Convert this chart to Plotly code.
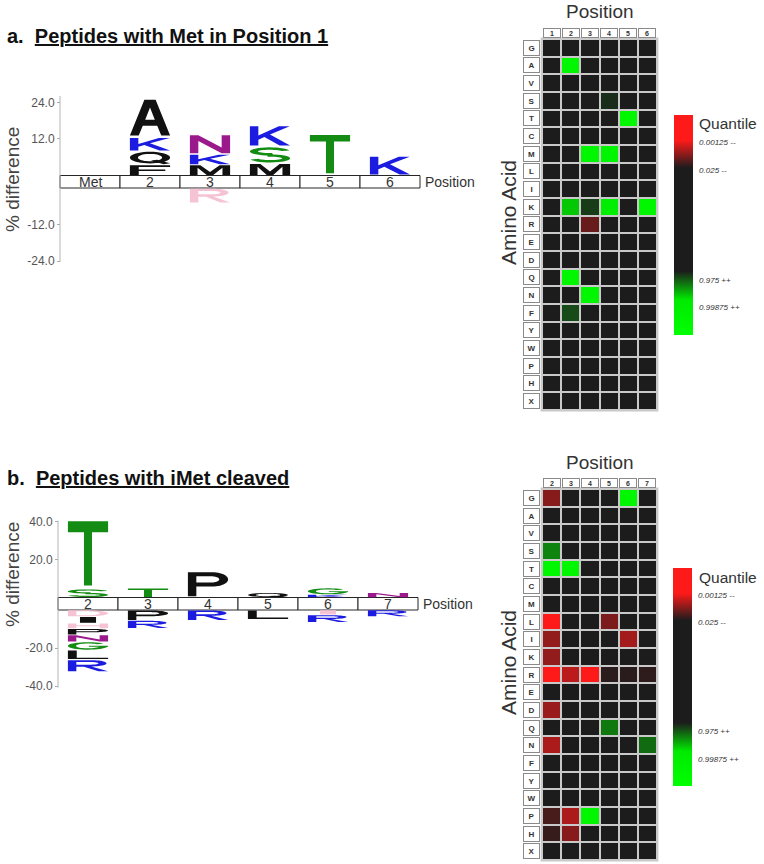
import math
import plotly.graph_objects as go

FIG_W, FIG_H = 764, 864
FONT = "Liberation Sans, Arial, Helvetica, sans-serif"

# ------------------------------------------------------------------ data
# Panel a: sequence logo (% difference), stacks listed from the bar outward
a_positions = ["Met", "2", "3", "4", "5", "6"]
a_up_letters = [[], ["F", "Q", "K", "A"], ["M", "K", "N"], ["M", "S", "K"], ["T"], ["K"]]
a_up_values = [[], [3.5, 4.5, 4.5, 13.0], [3.5, 3.5, 6.5], [4.0, 5.5, 7.0], [14.0], [6.5]]
a_down_letters = [[], [], ["R"], [], [], []]
a_down_values = [[], [], [5.0], [], [], []]
a_ticks = [24, 12, -12, -24]

# Panel b: sequence logo
b_positions = ["2", "3", "4", "5", "6", "7"]
b_up_letters = [["S", "T"], ["T"], ["P"], ["Q"], ["K", "G"], ["N"]]
b_up_values = [[4.5, 37.5], [5.0], [14.0], [2.5], [1.5, 3.5], [2.5]]
b_down_letters = [["D", "I", "H", "P", "N", "G", "L", "R"], ["P", "R"], ["R"], ["L"], ["I", "R"], ["R"]]
b_down_values = [[3.5, 3.4, 2.9, 3.3, 3.6, 4.4, 5.0, 6.5], [5.5, 4.2], [5.5], [5.0], [2.5, 4.0], [3.5]]
b_ticks = [40, 20, -20, -40]

# Heatmaps (score: + = depleted / red, - = enriched / green, 0 = not significant)
amino_acids = ["G", "A", "V", "S", "T", "C", "M", "L", "I", "K", "R",
               "E", "D", "Q", "N", "F", "Y", "W", "P", "H", "X"]
a_heat_cols = ["1", "2", "3", "4", "5", "6"]
a_cell_aa = ["A", "S", "T", "M", "M", "K", "K", "K", "K", "R", "Q", "N", "F"]
a_cell_pos = ["2", "4", "5", "3", "4", "2", "3", "4", "6", "3", "2", "3", "2"]
a_cell_z = [-3.5, -1.76, -3.5, -3.5, -3.4, -2.55, -1.84, -3.0, -3.5, 2.41, -3.5, -3.5, -1.91]

b_heat_cols = ["2", "3", "4", "5", "6", "7"]
b_cell_aa = ["G", "G", "S", "T", "T", "L", "L", "I", "I", "K", "R", "R", "R", "R", "R", "R",
             "D", "Q", "N", "N", "P", "P", "P", "H", "H"]
b_cell_pos = ["2", "6", "2", "2", "3", "2", "5", "2", "6", "2", "2", "3", "4", "5", "6", "7",
              "2", "5", "2", "7", "2", "3", "4", "2", "3"]
b_cell_z = [2.55, -3.5, -2.2, -3.5, -3.5, 3.5, 2.5, 2.6, 2.68, 2.6, 3.5, 2.78, 3.5, 2.14, 2.14, 2.16,
            2.63, -2.15, 2.71, -2.08, 2.28, 2.71, -3.5, 2.2, 2.55]

q_tickvals = [3, 2, -2, -3]
q_ticktext = ["0.00125 --", "0.025 --", "0.975 ++", "0.99875 ++"]

# ------------------------------------------------------------------ styles
BLACK, BLUE, GREEN, PURPLE, RED, PINK = "#111111", "#1c1ce0", "#148c14", "#9a1a8c", "#d01818", "#f5c3d3"
LETTER_COLORS = {"A": BLACK, "F": BLACK, "Q": BLACK, "M": BLACK, "P": BLACK, "L": BLACK, "I": BLACK,
                 "V": BLACK, "W": BLACK, "K": BLUE, "R": BLUE, "H": BLUE, "S": GREEN, "T": GREEN,
                 "G": GREEN, "Y": GREEN, "C": GREEN, "N": PURPLE, "D": RED, "E": RED}
A_FAINT = {("3", "R")}
B_FAINT = {("2", "D"), ("2", "H"), ("6", "I")}
COLORSCALE = [[0.0, "#00ff00"], [0.16, "#00ea00"], [0.29, "#1c1c1c"], [0.76, "#1c1c1c"],
              [0.885, "#ff1a1a"], [1.0, "#ff1a1a"]]


def pxx(p):
    return p / FIG_W


def pxy(p):
    return 1 - p / FIG_H


# ------------------------------------------------------------------ glyph outlines (unit box)
def arc(cx, cy, rx, ry, a0, a1, n=24):
    pts = []
    for i in range(n + 1):
        t = math.radians(a0 + (a1 - a0) * i / n)
        pts.append((cx + rx * math.cos(t), cy + ry * math.sin(t)))
    return pts


def rect(x0, y0, x1, y1):
    return [(x0, y0), (x1, y0), (x1, y1), (x0, y1)]


GLYPHS = {
    "A": [([(0, 0), (0.36, 1), (0.64, 1), (1, 0), (0.78, 0), (0.68, 0.27), (0.32, 0.27), (0.22, 0)], False),
          ([(0.38, 0.44), (0.62, 0.44), (0.5, 0.78)], True)],
    "K": [([(0, 0), (0, 1), (0.21, 1), (0.21, 0.52), (0.72, 1), (0.99, 1), (0.5, 0.57), (1, 0),
            (0.74, 0), (0.36, 0.44), (0.21, 0.3), (0.21, 0)], False)],
    "F": [([(0, 0), (0, 1), (1, 1), (1, 0.83), (0.22, 0.83), (0.22, 0.58), (0.88, 0.58), (0.88, 0.41),
            (0.22, 0.41), (0.22, 0)], False)],
    "L": [([(0, 0), (0, 1), (0.22, 1), (0.22, 0.17), (1, 0.17), (1, 0)], False)],
    "T": [([(0, 1), (1, 1), (1, 0.83), (0.6, 0.83), (0.6, 0), (0.4, 0), (0.4, 0.83), (0, 0.83)], False)],
    "I": [(rect(0.3, 0, 0.7, 1), False)],
    "N": [([(0, 0), (0, 1), (0.21, 1), (0.79, 0.32), (0.79, 1), (1, 1), (1, 0), (0.79, 0),
            (0.21, 0.68), (0.21, 0)], False)],
    "M": [([(0, 0), (0, 1), (0.26, 1), (0.5, 0.3), (0.74, 1), (1, 1), (1, 0), (0.81, 0), (0.81, 0.74),
            (0.58, 0), (0.42, 0), (0.19, 0.74), (0.19, 0)], False)],
    "H": [([(0, 0), (0, 1), (0.21, 1), (0.21, 0.6), (0.79, 0.6), (0.79, 1), (1, 1), (1, 0), (0.79, 0),
            (0.79, 0.43), (0.21, 0.43), (0.21, 0)], False)],
    "P": [([(0, 0), (0, 1), (0.6, 1)] + arc(0.6, 0.7, 0.4, 0.3, 90, -90) + [(0.21, 0.4), (0.21, 0)], False),
          ([(0.21, 0.83), (0.58, 0.83)] + arc(0.58, 0.7, 0.2, 0.13, 90, -90) + [(0.21, 0.57)], True)],
    "R": [([(0, 0), (0, 1), (0.58, 1)] + arc(0.58, 0.72, 0.38, 0.28, 90, -90)
           + [(1, 0), (0.76, 0), (0.4, 0.42), (0.21, 0.42), (0.21, 0)], False),
          ([(0.21, 0.84), (0.56, 0.84)] + arc(0.56, 0.72, 0.2, 0.12, 90, -90) + [(0.21, 0.6)], True)],
    "D": [([(0, 0), (0, 1), (0.45, 1)] + arc(0.45, 0.5, 0.55, 0.5, 90, -90), False),
          ([(0.21, 0.83), (0.45, 0.83)] + arc(0.45, 0.5, 0.34, 0.33, 90, -90) + [(0.21, 0.17)], True)],
    "Q": [(arc(0.5, 0.53, 0.5, 0.47, 0, 360, 40), False),
          (arc(0.5, 0.53, 0.3, 0.3, 0, 360, 40), True),
          ([(0.52, 0.3), (0.68, 0.36), (1.0, 0.08), (0.84, 0.0)], False)],
    "S": [(arc(0.5, 0.73, 0.5, 0.27, 15, 280) + arc(0.5, 0.73, 0.3, 0.11, 280, 15), False),
          (arc(0.5, 0.27, 0.5, 0.27, 100, -165) + arc(0.5, 0.27, 0.3, 0.11, -165, 100), False)],
    "G": [(arc(0.5, 0.5, 0.5, 0.5, 40, 360, 36) + arc(0.5, 0.5, 0.3, 0.32, 360, 40, 36), False),
          (rect(0.52, 0.38, 1.0, 0.53), False)],
}


def signed_area(pts):
    s = 0.0
    for i in range(len(pts)):
        x1, y1 = pts[i]
        x2, y2 = pts[(i + 1) % len(pts)]
        s += x1 * y2 - x2 * y1
    return s / 2


def letter_path(letter, xc, y0, h, wcol=0.67, pad=0.05):
    contours = GLYPHS.get(letter, [(rect(0, 0, 1, 1), False)])
    parts = []
    ya = y0 + h * pad
    hh = h * (1 - 2 * pad)
    for pts, hole in contours:
        ccw = signed_area(pts) > 0
        if ccw == hole:
            pts = pts[::-1]
        coords = ["{:.4f},{:.4f}".format(xc + (u - 0.5) * wcol, ya + v * hh) for u, v in pts]
        parts.append("M" + " L".join(coords) + " Z")
    return " ".join(parts)


def logo_shapes(xref, yref, positions, up_l, up_v, dn_l, dn_v, gap, faint):
    shapes = []
    # position bar
    for k in range(len(positions)):
        shapes.append(dict(type="rect", xref=xref, yref=yref, x0=k + 0.5, x1=k + 1.5, y0=0, y1=-gap,
                           line=dict(color="#262626", width=1), fillcolor="white"))
    for k, pos in enumerate(positions):
        base = 0.0
        for letter, v in zip(up_l[k], up_v[k]):
            col = PINK if (pos, letter) in faint else LETTER_COLORS.get(letter, BLACK)
            shapes.append(dict(type="path", xref=xref, yref=yref, path=letter_path(letter, k + 1, base, v),
                               fillcolor=col, line=dict(width=0), fillrule="nonzero"))
            base += v
        base = -gap
        for letter, v in zip(dn_l[k], dn_v[k]):
            col = PINK if (pos, letter) in faint else LETTER_COLORS.get(letter, BLACK)
            shapes.append(dict(type="path", xref=xref, yref=yref, path=letter_path(letter, k + 1, base - v, v),
                               fillcolor=col, line=dict(width=0), fillrule="nonzero"))
            base -= v
    return shapes


def heat_matrix(cols, cell_aa, cell_pos, cell_z):
    z = [[0.0] * len(cols) for _ in amino_acids]
    for aa, pos, v in zip(cell_aa, cell_pos, cell_z):
        z[amino_acids.index(aa)][cols.index(pos)] = v
    return z


# ------------------------------------------------------------------ geometry (pixels)
A_ZERO, A_PPU, GAP_PX = 175.5, 3.05, 12.5
A_TOP, A_BOT = 80, 275
B_ZERO, B_PPU = 597.5, 1.9
B_TOP, B_BOT = 505, 700
a_gap = GAP_PX / A_PPU
b_gap = GAP_PX / B_PPU

fig = go.Figure()

colorbar_common = dict(xanchor="left", xpad=0, yanchor="top", ypad=0, lenmode="pixels",
                       thickness=19, thicknessmode="pixels", outlinewidth=0,
                       tickvals=q_tickvals, ticktext=q_ticktext, ticks="outside", ticklen=5,
                       tickcolor="rgba(0,0,0,0)",
                       tickfont=dict(size=8, style="italic", color="#333", family=FONT))

fig.add_trace(go.Heatmap(z=heat_matrix(a_heat_cols, a_cell_aa, a_cell_pos, a_cell_z),
                         x=list(range(len(a_heat_cols))), y=list(range(len(amino_acids))),
                         xaxis="x2", yaxis="y2", colorscale=COLORSCALE, zmin=-4, zmax=4,
                         xgap=2, ygap=2, hoverinfo="skip",
                         colorbar=dict(x=pxx(674), y=pxy(115), len=220, **colorbar_common)))
fig.add_trace(go.Heatmap(z=heat_matrix(b_heat_cols, b_cell_aa, b_cell_pos, b_cell_z),
                         x=list(range(len(b_heat_cols))), y=list(range(len(amino_acids))),
                         xaxis="x4", yaxis="y4", colorscale=COLORSCALE, zmin=-4, zmax=4,
                         xgap=2, ygap=2, hoverinfo="skip",
                         colorbar=dict(x=pxx(673), y=pxy(568), len=218, **colorbar_common)))

shapes = []
shapes += logo_shapes("x", "y", a_positions, a_up_letters, a_up_values, a_down_letters, a_down_values,
                      a_gap, A_FAINT)
shapes += logo_shapes("x3", "y3", b_positions, b_up_letters, b_up_values, b_down_letters, b_down_values,
                      b_gap, B_FAINT)


def neg_shift(vals, gap):
    return [v if v >= 0 else v - gap for v in vals]


a_tickvals = neg_shift(a_ticks, a_gap)
b_tickvals = neg_shift(b_ticks, b_gap)
a_span = max(a_tickvals) - min(a_tickvals)
b_span = max(b_tickvals) - min(b_tickvals)
shapes.append(dict(type="line", xref="x", yref="y", x0=0.5, x1=0.5, y0=max(a_tickvals) + 0.04 * a_span,
                   y1=min(a_tickvals) - 0.005 * a_span, line=dict(color="#b5b5b5", width=1)))
shapes.append(dict(type="line", xref="x3", yref="y3", x0=0.5, x1=0.5, y0=max(b_tickvals) + 0.005 * b_span,
                   y1=min(b_tickvals) - 0.01 * b_span, line=dict(color="#b5b5b5", width=1)))
# grey grid behind heatmaps
for xa, ya in (("x2", "y2"), ("x4", "y4")):
    shapes.append(dict(type="rect", xref=xa + " domain", yref=ya + " domain", x0=-0.012, x1=1.012,
                       y0=-0.004, y1=1.004, fillcolor="#c9c9c9", line=dict(width=0), layer="below"))

annotations = []


def ann(**kw):
    d = dict(showarrow=False, xanchor="center", yanchor="middle",
             font=dict(family=FONT, size=14, color="#333"))
    if "font" in kw:
        d["font"].update(kw.pop("font"))
    d.update(kw)
    annotations.append(d)


# Titles
ann(xref="paper", yref="paper", x=pxx(5), y=pxy(36), xanchor="left",
    text="<b>a.  <u>Peptides with Met in Position 1</u></b>", font=dict(size=20, color="#111"))
ann(xref="paper", yref="paper", x=pxx(5), y=pxy(478), xanchor="left",
    text="<b>b.  <u>Peptides with iMet cleaved</u></b>", font=dict(size=20, color="#111"))

# Logo labels
for xa, ya, positions, gap, yc in (("x", "y", a_positions, a_gap, 180), ("x3", "y3", b_positions, b_gap, 575)):
    for k, p in enumerate(positions):
        ann(xref=xa, yref=ya, x=k + 1, y=-gap / 2, text=p, font=dict(size=14, color="#333"))
    ann(xref=xa, yref=ya, x=len(positions) + 0.5, y=-gap / 2, xanchor="left", xshift=3,
        text="Position", font=dict(size=14, color="#333"))
    ann(xref="paper", yref="paper", x=pxx(12), y=pxy(yc), text="% difference", textangle=-90,
        font=dict(size=19, color="#444"))

# Heatmap labels
for xa, ya, cols, top, cbtop in (("x2", "y2", a_heat_cols, 39, 115), ("x4", "y4", b_heat_cols, 489, 568)):
    for i, aa in enumerate(amino_acids):
        ann(xref="paper", yref=ya, x=pxx(531.5), y=i, text="<b>" + aa + "</b>", width=15, height=14,
            bgcolor="white", bordercolor="#8a8a8a", borderwidth=1, borderpad=0,
            font=dict(size=8, color="#333"))
    for j, c in enumerate(cols):
        ann(xref=xa, yref="paper", x=j, y=pxy(top - 6), text="<b>" + c + "</b>", width=16, height=8,
            bgcolor="white", bordercolor="#8a8a8a", borderwidth=1, borderpad=0,
            font=dict(size=7, color="#333"))
    ann(xref="paper", yref="paper", x=pxx(599.5), y=pxy(top - 27), text="Position",
        font=dict(size=19, color="#333"))
    ann(xref="paper", yref="paper", x=pxx(508), y=pxy(top + 174), text="Amino Acid", textangle=-90,
        font=dict(size=21, color="#333"))
    ann(xref="paper", yref="paper", x=pxx(697), y=pxy(cbtop + 9), xanchor="left", text="Quantile",
        font=dict(size=15.5, color="#333"))

yaxis_common = dict(showgrid=False, zeroline=False, showline=False, ticks="outside", ticklen=3,
                    tickcolor="#aaaaaa", tickfont=dict(family=FONT, size=12, color="#555"),
                    anchor="free")
hidden = dict(visible=False, showgrid=False, zeroline=False)

fig.update_layout(
    width=FIG_W, height=FIG_H, margin=dict(l=0, r=0, t=0, b=0),
    paper_bgcolor="white", plot_bgcolor="white", showlegend=False,
    xaxis=dict(domain=[pxx(57), pxx(423)], range=[0.45, len(a_positions) + 0.55], anchor="y", **hidden),
    yaxis=dict(domain=[pxy(A_BOT), pxy(A_TOP)],
               range=[-(A_BOT - A_ZERO) / A_PPU, (A_ZERO - A_TOP) / A_PPU],
               tickvals=a_tickvals, ticktext=["{:.1f}".format(v) for v in a_ticks],
               position=pxx(60), **yaxis_common),
    xaxis3=dict(domain=[pxx(55), pxx(421)], range=[0.45, len(b_positions) + 0.55], anchor="y3", **hidden),
    yaxis3=dict(domain=[pxy(B_BOT), pxy(B_TOP)],
                range=[-(B_BOT - B_ZERO) / B_PPU, (B_ZERO - B_TOP) / B_PPU],
                tickvals=b_tickvals, ticktext=["{:.1f}".format(v) for v in b_ticks],
                position=pxx(58), **yaxis_common),
    xaxis2=dict(domain=[pxx(542), pxx(657)], range=[-0.5, len(a_heat_cols) - 0.5], anchor="y2", **hidden),
    yaxis2=dict(domain=[pxy(410), pxy(39)], range=[len(amino_acids) - 0.5, -0.5], anchor="x2", **hidden),
    xaxis4=dict(domain=[pxx(542), pxx(657)], range=[-0.5, len(b_heat_cols) - 0.5], anchor="y4", **hidden),
    yaxis4=dict(domain=[pxy(860), pxy(489)], range=[len(amino_acids) - 0.5, -0.5], anchor="x4", **hidden),
    shapes=shapes, annotations=annotations,
)

fig.write_html("out.html", config={"displayModeBar": False},
               post_script="document.body.style.margin='0px';")
